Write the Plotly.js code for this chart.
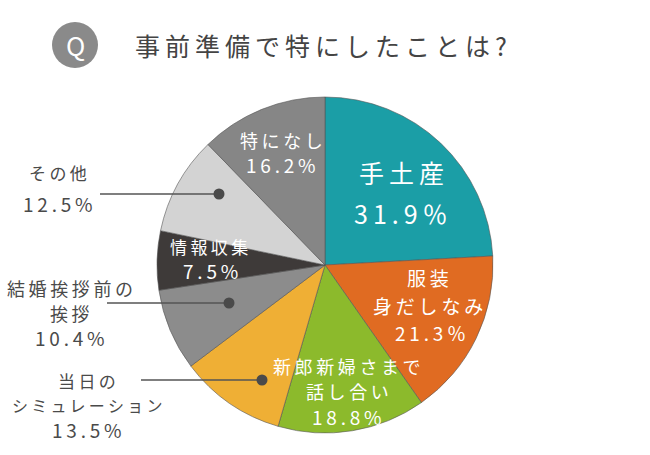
<!DOCTYPE html>
<html>
<head>
<meta charset="utf-8">
<script src="https://cdn.plot.ly/plotly-3.0.1.min.js"></script>
<style>html,body{margin:0;padding:0;background:#fff;}#chart{width:650px;height:455px;}</style>
</head>
<body>
<div id="chart"></div>
<script>
// Data (multiple answers allowed, values in %)
const categories = ['手土産', '服装 身だしなみ', '新郎新婦さまで話し合い', '当日のシミュレーション', '結婚挨拶前の挨拶', '情報収集', 'その他', '特になし'];
const values = [31.9, 21.3, 18.8, 13.5, 10.4, 7.5, 12.5, 16.2];
const valueLabels = ['31.9％', '21.3％', '18.8%', '13.5%', '10.4%', '7.5%', '12.5%', '16.2%'];
const sliceColors = ['#1b9ea6', '#e06b22', '#8cba2c', '#efaf35', '#8c8c8c', '#3e3a39', '#d3d3d3', '#868686'];
const titleText = '事前準備で特にしたことは?';

const W = 650, H = 455;
const cx = 325, cy = 265, R = 168;
const FONT = '"Noto Sans CJK JP", "Noto Sans", sans-serif';
const sp = s => s.split('').join('\u2009');

const trace = {
  type: 'pie',
  labels: categories,
  values: values,
  sort: false,
  direction: 'clockwise',
  rotation: 0,
  textinfo: 'none',
  hoverinfo: 'label+text',
  text: valueLabels,
  marker: {colors: sliceColors, line: {color: '#555555', width: 0.6}},
  domain: {x: [(cx - R) / W, (cx + R) / W], y: [(H - cy - R) / H, (H - cy + R) / H]},
  showlegend: false
};

const px = x => x / W;
const py = y => 1 - y / H;
const ann = (x, y, text, size, color) => ({
  x: px(x), y: py(y), xref: 'paper', yref: 'paper', text: text, showarrow: false,
  xanchor: 'center', yanchor: 'middle', font: {family: FONT, size: size, color: color}
});

const WHITE = '#ffffff', DARK = '#4a4a4a';
const annotations = [
  // title
  ann(75, 45, 'Q', 26, WHITE),
  {x: px(133), y: py(45), xref: 'paper', yref: 'paper', xanchor: 'left', yanchor: 'middle', showarrow: false,
   text: sp(titleText), font: {family: FONT, size: 25, color: '#444444'}},
  // inside labels
  ann(401, 172, sp('手土産'), 25, WHITE),
  ann(401, 213, sp(valueLabels[0]), 25, WHITE),
  ann(428, 277, sp('服装'), 19, WHITE),
  ann(428, 305, sp('身だしなみ'), 19, WHITE),
  ann(430, 332, sp(valueLabels[1]), 19, WHITE),
  ann(347, 366, sp('新郎新婦さまで'), 18, WHITE),
  ann(347, 391, sp('話し合い'), 18, WHITE),
  ann(347, 416, sp(valueLabels[2]), 19, WHITE),
  ann(209, 247, sp('情報収集'), 17, WHITE),
  ann(210, 270, sp(valueLabels[5]), 19, WHITE),
  ann(281, 140, sp('特になし'), 18, WHITE),
  ann(281, 164, sp(valueLabels[7]), 19, WHITE),
  // outside labels
  ann(58, 172, sp('その他'), 17, DARK),
  ann(58, 203, sp(valueLabels[6]), 19, DARK),
  ann(70, 288, sp('結婚挨拶前の'), 18, DARK),
  ann(70, 313, sp('挨拶'), 18, DARK),
  ann(70, 337, sp(valueLabels[4]), 19, DARK),
  ann(87, 380, sp('当日の'), 17, DARK),
  ann(87, 405, sp('シミュレーション'), 16, DARK),
  ann(87, 429, sp(valueLabels[3]), 19, DARK)
];

const lineCol = '#555555';
const leader = (x0, x1, y) => ([
  {type: 'line', xref: 'paper', yref: 'paper', x0: px(x0), x1: px(x1), y0: py(y), y1: py(y), line: {color: lineCol, width: 1.5}, layer: 'above'},
  {type: 'circle', xref: 'paper', yref: 'paper', x0: px(x1 - 5.5), x1: px(x1 + 5.5), y0: py(y + 5.5), y1: py(y - 5.5), fillcolor: '#4a4a4a', line: {width: 0}, layer: 'above'}
]);

const shapes = [
  {type: 'circle', xref: 'paper', yref: 'paper', x0: px(52), x1: px(98), y0: py(68), y1: py(22), fillcolor: '#8a8a8a', line: {width: 0}, layer: 'below'},
  ...leader(100, 219, 194),
  ...leader(107, 229, 303),
  ...leader(141, 262, 380)
];

const layout = {
  width: W, height: H,
  margin: {l: 0, r: 0, t: 0, b: 0},
  paper_bgcolor: '#ffffff',
  plot_bgcolor: '#ffffff',
  annotations: annotations,
  shapes: shapes,
  showlegend: false
};

Plotly.newPlot('chart', [trace], layout, {displayModeBar: false, staticPlot: true});
</script>
</body>
</html>
